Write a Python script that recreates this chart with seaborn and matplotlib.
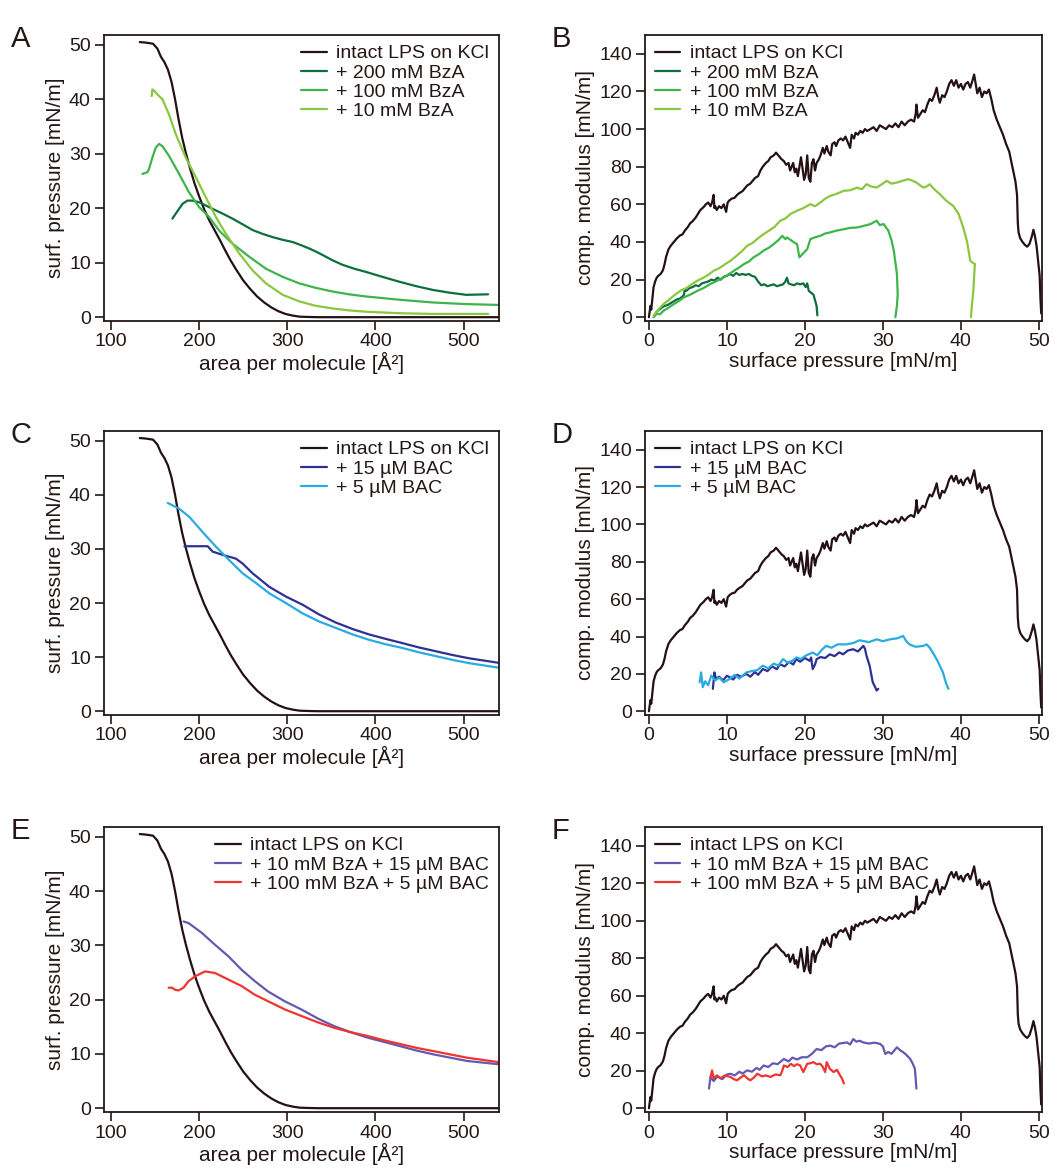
import numpy as np
import pandas as pd
import matplotlib
matplotlib.use("Agg")
import matplotlib.pyplot as plt
import seaborn as sns

sns.set_theme(style="white")
plt.rcParams['font.family'] = ['Liberation Sans', 'DejaVu Sans']

TXT = "#231815"
C_BLACK = "#231116"
C_BZA200 = "#0d6e3e"
C_BZA100 = "#3db54a"
C_BZA10 = "#8cc63f"
C_BAC15 = "#2e3192"
C_BAC5 = "#29abe2"
C_MIX1 = "#6459b0"
C_MIX2 = "#ee3530"

# ---------------- isotherms (area per molecule vs surface pressure) ----------------
lps_iso_x = [133, 140, 148, 153, 157, 161, 165, 169, 173, 177, 181, 185, 190, 195, 200, 206, 212,
             218, 224, 230, 236, 242, 250, 258, 266, 274, 282, 290, 298, 306, 314, 322, 335, 360,
             400, 450, 500, 540]
lps_iso_y = [50.5, 50.4, 50.2, 49.3, 47.8, 46.8, 45.4, 43.2, 40.0, 36.3, 33.0, 30.3, 27.3, 24.6,
             22.3, 19.8, 17.7, 15.9, 14.1, 12.2, 10.4, 8.8, 6.8, 5.2, 3.8, 2.7, 1.8, 1.1, 0.6, 0.3,
             0.1, 0.05, 0.0, 0.0, 0.0, 0.0, 0.0, 0.0]

bza200_iso_x = [170, 173.8, 181.4, 187, 192.7, 200.3, 215.4, 227, 238, 250, 260.8, 272, 283.5, 295,
                306.2, 316, 325.2, 333, 340.3, 352, 363, 376, 389.5, 408, 427.3, 446, 465.2, 484,
                503, 527.6]
bza200_iso_y = [18.1, 19.0, 20.8, 21.4, 21.4, 21.1, 19.9, 19.0, 18.1, 17.0, 16.0, 15.3, 14.7, 14.2,
                13.8, 13.2, 12.6, 12.0, 11.4, 10.4, 9.6, 8.9, 8.3, 7.4, 6.5, 5.7, 5.0, 4.5, 4.1,
                4.2]

bza100_iso_x = [136, 141.6, 143.5, 147.3, 151.1, 154.9, 158.7, 166.2, 177.6, 188.9, 200.3, 211.6,
                222.9, 238.1, 257, 275.9, 295, 313.8, 332, 351.7, 370, 389.5, 427.3, 465.2, 503,
                539]
bza100_iso_y = [26.3, 26.6, 27.2, 29.3, 31.1, 31.8, 31.4, 29.6, 26.3, 22.9, 20.2, 18.4, 15.9, 13.5,
                11.1, 8.9, 7.4, 6.2, 5.4, 4.7, 4.2, 3.8, 3.2, 2.7, 2.4, 2.25]

bza10_iso_x = [146.5, 147.3, 149.2, 153, 158.7, 166.2, 173.8, 185.1, 196.5, 207.9, 219.2, 230.6,
               245.7, 260.8, 276, 295, 313.8, 332, 351.7, 370, 389.5, 427.3, 465, 527.6]
bza10_iso_y = [40.6, 41.8, 41.6, 40.9, 40.0, 37.2, 33.6, 29.3, 25.7, 22.0, 18.4, 15.3, 11.7, 8.6,
               6.2, 4.1, 2.9, 2.1, 1.6, 1.25, 1.0, 0.73, 0.6, 0.6]

bac15_iso_x = [183.6, 195, 210, 215.6, 226.9, 242, 249.5, 260.8, 279.7, 298.5, 317.3, 336, 355,
               374, 392.7, 411, 430.3, 449, 468, 487, 505.6, 541.4]
bac15_iso_y = [30.5, 30.5, 30.5, 29.5, 28.9, 28.2, 27.3, 25.5, 23.0, 21.2, 19.7, 17.9, 16.4, 15.2,
               14.2, 13.4, 12.6, 11.8, 11.1, 10.4, 9.8, 8.9]

bac5_iso_x = [164.8, 178, 189.3, 204.3, 219.4, 234.5, 249.5, 264.6, 279.7, 298.5, 317.3, 336, 355,
              374, 392.7, 411, 430.3, 449, 468, 487, 505.6, 541.4]
bac5_iso_y = [38.5, 37.4, 35.9, 33.1, 30.4, 27.9, 25.5, 23.7, 21.8, 20.0, 18.1, 16.6, 15.4, 14.2,
              13.2, 12.4, 11.7, 10.9, 10.2, 9.5, 8.9, 8.0]

mix1_iso_x = [182.6, 188.3, 203.3, 218.3, 233.3, 248.4, 263.4, 278.4, 297.2, 316, 335, 353.5, 372,
              391.1, 410, 428.6, 447, 466.2, 485, 503.8, 539.4]
mix1_iso_y = [34.4, 34.1, 32.3, 30.1, 28.0, 25.5, 23.4, 21.5, 19.7, 18.2, 16.5, 15.1, 14.0, 13.0,
              12.2, 11.4, 10.6, 9.9, 9.3, 8.7, 8.1]

mix2_iso_x = [165.7, 169.5, 173.2, 177, 182.6, 188.3, 195.8, 207, 218.3, 233.3, 248.4, 263.4, 278.4,
              297.2, 316, 335, 353.5, 372, 391.1, 410, 428.6, 447, 466.2, 485, 503.8, 539.4]
mix2_iso_y = [22.2, 22.2, 21.8, 21.7, 22.2, 23.4, 24.3, 25.2, 24.9, 23.7, 22.5, 20.9, 19.7, 18.2,
              17.0, 15.8, 14.8, 14.0, 13.3, 12.5, 11.8, 11.1, 10.5, 9.9, 9.3, 8.5]

# ---------------- compression modulus vs surface pressure ----------------
lps_mod_x = [0.0, 0.1, 0.2, 0.3, 0.4, 0.5, 0.6, 0.8, 1.0, 1.2, 1.5, 1.8, 2.0, 2.2, 2.5, 2.8, 3.0,
             3.3, 3.6, 4.0, 4.3, 4.6, 5.0, 5.3, 5.6, 6.0, 6.3, 6.6, 7.0, 7.3, 7.6, 7.9, 8.1, 8.3,
             8.4, 8.5, 8.7, 9.0, 9.3, 9.6, 9.9, 10.1, 10.3, 10.6, 11.0, 11.3, 11.6, 12.0, 12.3,
             12.6, 13.0, 13.3, 13.6, 14.0, 14.3, 14.6, 15.0, 15.3, 15.6, 16.0, 16.3, 16.6, 17.0,
             17.3, 17.6, 17.9, 18.1, 18.3, 18.5, 18.7, 18.9, 19.1, 19.3, 19.5, 19.7, 19.9, 20.1,
             20.3, 20.5, 20.7, 20.9, 21.1, 21.3, 21.5, 21.8, 22.0, 22.3, 22.5, 22.8, 23.0, 23.3,
             23.5, 23.8, 24.0, 24.3, 24.6, 24.9, 25.2, 25.5, 25.8, 26.0, 26.3, 26.5, 26.8, 27.1,
             27.4, 27.7, 28.0, 28.4, 28.8, 29.2, 29.6, 30.0, 30.4, 30.8, 31.2, 31.6, 32.0, 32.4,
             32.8, 33.2, 33.6, 34.0, 34.2, 34.3, 34.5, 34.8, 35.1, 35.4, 35.7, 36.0, 36.3, 36.6,
             36.9, 37.1, 37.3, 37.6, 37.9, 38.2, 38.5, 38.8, 39.1, 39.4, 39.7, 40.0, 40.3, 40.6,
             40.9, 41.2, 41.5, 41.7, 41.9, 42.1, 42.4, 42.7, 43.0, 43.3, 43.6, 43.9, 44.2, 44.6,
             45.0, 45.4, 45.8, 46.2, 46.6, 47.0, 47.2, 47.3, 47.4, 47.6, 47.9, 48.2, 48.5, 48.8,
             49.1, 49.3, 49.5, 49.7, 49.9, 50.1, 50.2, 50.3]
lps_mod_y = [0, 3, 6, 4, 8, 12, 16, 19, 21, 22, 23, 25, 28, 32, 36, 38, 39, 40.5, 42, 43.5, 44, 46,
             48, 50, 51, 53, 55, 57, 58.5, 60, 61, 59, 61, 65, 58, 59, 57, 59, 58, 60, 56, 61, 62,
             63, 63.5, 65, 66, 67, 68.5, 70, 71, 72.5, 74, 75, 78, 80, 82, 83, 85, 86, 87.5, 86,
             84, 83, 81, 82, 78, 80, 82, 77, 79, 75, 80, 85, 79, 73, 76, 86, 74, 72, 82, 84, 78,
             82, 84, 86, 90, 87, 91, 88, 86, 92, 93, 91, 94, 95, 94, 96, 93, 90, 97, 95, 98, 97,
             99, 98, 100, 99, 100, 101, 99, 102, 101, 100, 102, 101, 103, 101, 104, 102, 104, 105,
             104, 108, 113, 106, 108, 110, 109, 113, 116, 115, 118, 122, 117, 114, 118, 117, 120,
             124, 126, 123, 126, 122, 124, 121, 124, 125, 122, 126, 129, 124, 119, 122, 117, 120,
             119, 121, 116, 110, 105, 101, 97, 92, 88, 80, 72, 65, 50, 45, 42, 40, 38.5, 37.5, 39,
             43, 46.5, 43, 38, 30, 22, 10, 2]

bza200_mod_x = [0.8, 1.0, 1.3, 1.6, 2.0, 2.4, 2.8, 3.2, 3.6, 4.0, 4.3, 4.5, 4.6, 4.8, 5.2, 5.6, 6.0,
                6.4, 6.8, 7.2, 7.6, 8.0, 8.4, 8.8, 9.2, 9.6, 10.0, 10.4, 10.8, 11.2, 11.6, 12.0,
                12.4, 12.8, 13.2, 13.6, 14.0, 14.4, 14.8, 15.2, 15.6, 16.0, 16.4, 16.8, 17.2, 17.5,
                17.7, 17.9, 18.2, 18.6, 19.0, 19.4, 19.8, 20.1, 20.3, 20.5, 20.8, 21.1, 21.3, 21.5,
                21.6]
bza200_mod_y = [1, 3, 4, 5, 6, 6.5, 7.5, 8.5, 9.5, 10, 11, 12, 15, 14, 15.5, 16, 17, 16.5, 18, 18.5,
                19, 20, 19.5, 21, 20, 21.5, 22, 23, 22, 23.5, 22.5, 23, 22.5, 23, 22, 21.5, 19, 17,
                17.5, 16.5, 17, 17.5, 16.5, 17, 17.5, 19, 21, 18, 17.5, 17, 18, 17.5, 18, 16, 18,
                14, 13, 12, 9, 6, 1]

bza100_mod_x = [0.6, 1.0, 1.4, 1.9, 2.5, 3.2, 3.8, 4.5, 5.3, 6.2, 7.0, 7.9, 8.8, 9.6, 10.3, 10.9,
                11.6, 12.2, 12.8, 13.4, 14.1, 14.7, 15.4, 16.0, 16.6, 17.1, 17.5, 17.7, 18.2, 18.6,
                19.0, 19.2, 19.3, 19.7, 20.3, 20.7, 21.3, 22.0, 22.6, 23.25, 24.0, 25.0, 25.8, 26.7,
                27.5, 28.4, 29.2, 29.6, 30.1, 30.7, 31.1, 31.4, 31.8, 31.9, 31.8, 31.6]
bza100_mod_y = [0, 2, 1.5, 3.5, 5, 7, 8.5, 10.6, 12, 14, 15.5, 17.7, 19.5, 21.2, 23, 24.7, 26.5, 28.3,
                29.5, 31.8, 33.5, 35.4, 37, 38.9, 41, 43.3, 41.5, 42.4, 41, 39.8, 38.9, 34, 31.8,
                33.6, 36.2, 41.5, 42.5, 43.3, 44.5, 45.1, 46, 46.8, 47.5, 47.7, 48.5, 49.5, 51.3,
                49, 49.5, 46, 41, 35.4, 23, 12.4, 6, 0]

bza10_mod_x = [0.6, 1.0, 1.4, 1.9, 2.5, 3.2, 4.05, 4.8, 5.5, 6.2, 7.0, 7.6, 8.3, 9.0, 9.7, 10.45,
               11.2, 11.9, 12.6, 13.3, 14.0, 14.7, 15.4, 16.1, 16.85, 17.5, 18.2, 19.0, 19.8, 20.7,
               21.3, 22.0, 22.6, 23.25, 24.0, 25.0, 25.8, 26.7, 27.3, 27.9, 28.5, 29.2, 29.8, 30.5,
               31.1, 31.8, 32.5, 33.3, 33.8, 34.3, 34.8, 35.2, 35.6, 36.0, 36.6, 37.3, 38.1, 39.0,
               39.7, 40.3, 40.8, 41.2, 41.5, 41.8, 41.7, 41.6, 41.4, 41.3]
bza10_mod_y = [0.9, 3, 5, 7.1, 9, 11.5, 14.1, 15.5, 17.5, 19.4, 21, 22.5, 24.7, 26, 28, 30, 32.5, 35,
               38, 39.5, 42, 44.2, 46, 48, 51.3, 52.5, 55, 56.6, 58, 60.1, 59, 61, 63, 64.5, 65.5,
               67.2, 67.5, 68.9, 68, 70.7, 69.5, 68.9, 70.5, 72.5, 71, 71.6, 72.5, 73.4, 72.5, 71.6,
               70, 68.9, 69.5, 70.7, 68, 65.4, 62, 59.2, 55, 47.7, 40, 30, 29, 28.3, 22, 14.1, 6, 0]

bac15_mod_x = [8.2, 8.4, 8.6, 9.0, 9.5, 10.0, 10.35, 10.8, 11.3, 11.8, 12.5, 13.0, 13.6, 14.0, 14.6,
               15.2, 15.8, 16.4, 16.8, 17.4, 18.0, 18.5, 18.9, 19.4, 20.0, 20.6, 20.8, 21.0, 21.3,
               21.5, 22.0, 22.6, 23.2, 23.8, 24.4, 24.9, 25.5, 26.2, 26.8, 27.5, 27.7, 27.9, 28.3,
               28.7, 29.0, 29.2, 29.4]
bac15_mod_y = [12, 20.8, 17.3, 18.5, 16.5, 19, 18.2, 17, 19.5, 18.5, 20, 18.5, 21, 19.5, 22.6, 21.5,
               24, 22.5, 25.2, 24, 26.5, 25, 27.9, 26.5, 28.5, 27, 28.8, 22.6, 25, 27.9, 29, 28.5,
               30.5, 29.5, 31.5, 30.5, 32.5, 33.2, 32, 35, 33.5, 29.7, 24.4, 15.5, 13, 11.1, 12]

bac5_mod_x = [6.5, 6.7, 6.9, 7.2, 7.6, 8.0, 8.5, 9.0, 9.6, 10.35, 11.0, 11.6, 12.5, 13.2, 13.9, 14.6,
              15.3, 16.0, 16.6, 17.2, 17.8, 18.4, 18.9, 19.5, 20.2, 21.0, 21.6, 22.2, 22.7, 23.4,
              24.2, 25.3, 26.2, 27.0, 27.5, 28.2, 29.2, 30.0, 30.9, 31.8, 32.6, 33.0, 33.4, 34.2,
              35.2, 35.6, 36.0, 36.4, 37.0, 37.7, 38.1, 38.4]
bac5_mod_y = [15.5, 20.8, 12.9, 16, 14, 19.1, 16.5, 18, 15.5, 17.3, 19.5, 17.5, 20.8, 21.5, 22, 24.4,
              23, 25.5, 24.5, 27.9, 26, 27, 28.8, 28, 30, 31.4, 30, 33, 35, 34, 35.8, 35.8, 36.5,
              38, 37.6, 37, 38.5, 37.5, 38.5, 39, 40.3, 37.5, 35.8, 34.5, 35, 35.8, 34, 31.4, 27,
              20.8, 15, 12]

mix1_mod_x = [7.7, 7.9, 8.3, 8.8, 9.4, 10.0, 10.45, 11.0, 11.6, 12.0, 12.6, 13.2, 13.8, 14.2, 14.7,
              15.3, 15.9, 16.5, 17.3, 17.9, 18.4, 19.0, 19.6, 20.3, 20.9, 21.5, 22.1, 22.7, 23.25,
              23.8, 24.4, 25.4, 25.8, 26.2, 26.6, 27.0, 27.5, 28.2, 28.9, 29.65, 30.0, 30.3, 30.7,
              31.1, 31.5, 31.8, 32.2, 32.6, 33.0, 33.5, 33.8, 34.1, 34.2, 34.3]
mix1_mod_y = [10.5, 16.7, 14.5, 17, 15.5, 18, 18.4, 17.5, 19.5, 18.5, 20.2, 19.5, 21.5, 20.5, 22.8,
              22, 24, 23.5, 26.3, 25, 27, 26, 27.2, 27.2, 29, 31.6, 31, 33, 33.4, 32.5, 34.5, 35.1,
              34, 36.9, 35.5, 36, 35.1, 34.5, 35, 34.3, 33, 29, 30, 29, 31, 32.5, 31, 29.9, 28.5,
              26.3, 24, 21.1, 16, 10.5]

mix2_mod_x = [7.9, 8.1, 8.3, 8.7, 9.2, 9.7, 10.45, 10.9, 11.3, 11.8, 12.2, 12.6, 13.0, 13.5, 13.9,
              14.5, 15.0, 15.6, 16.2, 16.85, 17.1, 17.3, 17.8, 18.2, 18.6, 19.0, 19.4, 19.8, 20.3,
              20.7, 21.1, 21.5, 21.97, 22.3, 22.6, 22.8, 23.2, 23.7, 24.1, 24.5, 24.8, 25.0]
mix2_mod_y = [16.7, 20.2, 15.8, 17.5, 16, 17.5, 16.7, 15.5, 14.9, 16.5, 17.6, 16, 14.9, 16.5, 18.4,
              17, 17.5, 16.7, 18, 17.6, 20, 22.8, 22, 23.7, 22.5, 23.5, 22.8, 19.3, 23.7, 24, 24.6,
              23.5, 23.7, 22, 19.3, 24.6, 21, 19.3, 20.5, 17.6, 15.5, 13.2]

# ---------------- labels ----------------
LBL_LPS = "intact LPS on KCl"
panels = [
    ("A", "iso", [(lps_iso_x, lps_iso_y, LBL_LPS, C_BLACK),
                  (bza200_iso_x, bza200_iso_y, "+ 200 mM BzA", C_BZA200),
                  (bza100_iso_x, bza100_iso_y, "+ 100 mM BzA", C_BZA100),
                  (bza10_iso_x, bza10_iso_y, "+ 10 mM BzA", C_BZA10)]),
    ("B", "mod", [(lps_mod_x, lps_mod_y, LBL_LPS, C_BLACK),
                  (bza200_mod_x, bza200_mod_y, "+ 200 mM BzA", C_BZA200),
                  (bza100_mod_x, bza100_mod_y, "+ 100 mM BzA", C_BZA100),
                  (bza10_mod_x, bza10_mod_y, "+ 10 mM BzA", C_BZA10)]),
    ("C", "iso", [(lps_iso_x, lps_iso_y, LBL_LPS, C_BLACK),
                  (bac15_iso_x, bac15_iso_y, "+ 15 µM BAC", C_BAC15),
                  (bac5_iso_x, bac5_iso_y, "+ 5 µM BAC", C_BAC5)]),
    ("D", "mod", [(lps_mod_x, lps_mod_y, LBL_LPS, C_BLACK),
                  (bac15_mod_x, bac15_mod_y, "+ 15 µM BAC", C_BAC15),
                  (bac5_mod_x, bac5_mod_y, "+ 5 µM BAC", C_BAC5)]),
    ("E", "iso", [(lps_iso_x, lps_iso_y, LBL_LPS, C_BLACK),
                  (mix1_iso_x, mix1_iso_y, "+ 10 mM BzA + 15 µM BAC", C_MIX1),
                  (mix2_iso_x, mix2_iso_y, "+ 100 mM BzA + 5 µM BAC", C_MIX2)]),
    ("F", "mod", [(lps_mod_x, lps_mod_y, LBL_LPS, C_BLACK),
                  (mix1_mod_x, mix1_mod_y, "+ 10 mM BzA + 15 µM BAC", C_MIX1),
                  (mix2_mod_x, mix2_mod_y, "+ 100 mM BzA + 5 µM BAC", C_MIX2)]),
]

W, H = 1059, 1173
fig = plt.figure(figsize=(W / 100, H / 100), dpi=100)

rows_px = [(35, 321), (431, 715), (827, 1112)]
cols_px = [(104, 499), (645, 1042)]

for i, (letter, kind, series) in enumerate(panels):
    r, c = divmod(i, 2)
    (t, b), (l, rr) = rows_px[r], cols_px[c]
    ax = fig.add_axes([l / W, 1 - b / H, (rr - l) / W, (b - t) / H])
    for xs, ys, lab, col in series:
        df = pd.DataFrame({"x": xs, "y": ys})
        sns.lineplot(data=df, x="x", y="y", ax=ax, color=col, lw=1.6, label=lab,
                     sort=False, estimator=None)
    legkw = dict(frameon=False, fontsize=14, handlelength=1.3, handletextpad=0.5,
                 labelspacing=0.08, borderaxespad=0.2, borderpad=0.3)
    if kind == "iso":
        ax.set_xlim(92.5, 540)
        ax.set_ylim(-0.7, 51.8)
        ax.set_xticks([100, 200, 300, 400, 500])
        ax.set_yticks([0, 10, 20, 30, 40, 50])
        ax.set_xlabel("area per molecule [Å²]", fontsize=15, color=TXT, labelpad=1)
        ax.set_ylabel("surf. pressure [mN/m]", fontsize=15, color=TXT, labelpad=3)
        leg = ax.legend(loc="upper right", **legkw)
    else:
        ax.set_xlim(-0.5, 50.4)
        ax.set_ylim(-2, 150)
        ax.set_xticks([0, 10, 20, 30, 40, 50])
        ax.set_yticks([0, 20, 40, 60, 80, 100, 120, 140])
        ax.set_xlabel("surface pressure [mN/m]", fontsize=15, color=TXT, labelpad=1)
        ax.set_ylabel("comp. modulus [mN/m]", fontsize=15, color=TXT, labelpad=3)
        leg = ax.legend(loc="upper left", **legkw)
    for txt in leg.get_texts():
        txt.set_color(TXT)
    for s in ax.spines.values():
        s.set_color(TXT)
        s.set_linewidth(1.3)
        s.set_visible(True)
    ax.tick_params(axis="both", direction="out", length=6.5, width=1.2, colors=TXT,
                   labelsize=14, bottom=True, left=True)
    ax.tick_params(axis="y", pad=3)
    ax.tick_params(axis="x", pad=2.5)
    fig.text((l - 93) / W, 1 - (t - 10) / H, letter, fontsize=21, color=TXT,
             ha="left", va="top")

fig.savefig("out.png", dpi=100)
